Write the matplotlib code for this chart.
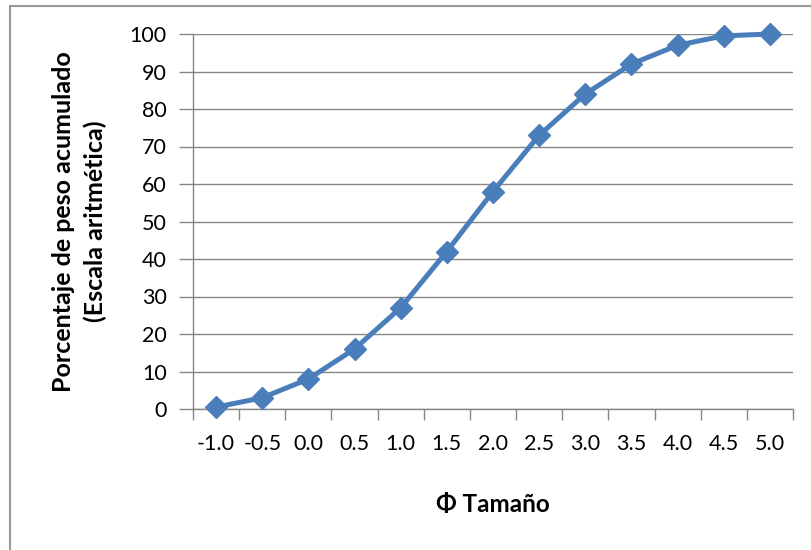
import matplotlib
matplotlib.use("Agg")
import matplotlib.pyplot as plt
from matplotlib.patches import Rectangle

# tamaño phi y porcentaje acumulado
phi_labels = ["-1.0", "-0.5", "0.0", "0.5", "1.0", "1.5", "2.0",
              "2.5", "3.0", "3.5", "4.0", "4.5", "5.0"]
acumulado = [0.5, 3, 8, 16, 27, 42, 58, 73, 84, 92, 97, 99.5, 100]

plt.rcParams['font.family'] = ['Lato', 'DejaVu Sans']

fig = plt.figure(figsize=(8.11, 5.5), dpi=100)
ax = fig.add_axes([193 / 811, 1 - 409 / 550, 600 / 811, 375 / 550])

# marco exterior (tipo Excel)
fig.patches.append(Rectangle((10 / 811, -0.05), 1.2, 1 - 6 / 550 + 0.05,
                             transform=fig.transFigure, fill=False,
                             edgecolor='#9a9a9a', linewidth=1.5))

x = list(range(len(phi_labels)))
ax.plot(x, acumulado, color='#4a7ebb', linewidth=3.6, marker='D',
        markersize=11, markerfacecolor='#4a7ebb', markeredgecolor='#4a7ebb',
        zorder=3, clip_on=False)

ax.set_xlim(-0.5, len(phi_labels) - 0.5)
ax.set_ylim(0, 100)
ax.set_yticks(range(0, 101, 10))
ax.yaxis.grid(True, color='#868686', linewidth=1)
ax.set_axisbelow(True)

ax.set_xticks(x)
ax.set_xticklabels(phi_labels)
ax.set_xticks([i - 0.5 for i in range(len(phi_labels) + 1)], minor=True)
ax.tick_params(axis='x', which='major', length=0, pad=18, labelsize=15.5)
ax.tick_params(axis='x', which='minor', length=8, color='#868686', width=1)
ax.tick_params(axis='y', length=10, color='#868686', width=1, pad=9, labelsize=15.5)

for s in ['top', 'right']:
    ax.spines[s].set_visible(False)
for s in ['left', 'bottom']:
    ax.spines[s].set_color('#868686')
    ax.spines[s].set_linewidth(1)

ax.set_ylabel("Porcentaje de peso acumulado\n(Escala aritmética)",
              fontsize=18, fontweight='bold', labelpad=16, linespacing=1.45)
ax.set_xlabel("Φ Tamaño", fontsize=17.5, fontweight='bold', labelpad=28)

fig.savefig("out.png", dpi=100)
